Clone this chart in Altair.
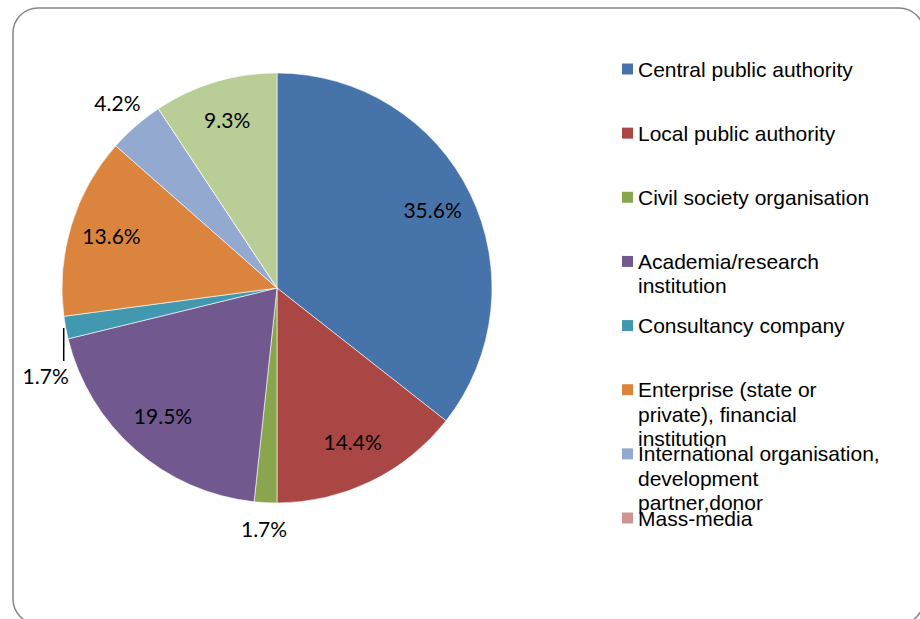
import math

import altair as alt
import pandas as pd

# Respondent categories, in the order the slices run clockwise from 12 o'clock
categories = [
    "Central public authority",
    "Local public authority",
    "Civil society organisation",
    "Academia/research institution",
    "Consultancy company",
    "Enterprise (state or private), financial institution",
    "International organisation, development partner,donor",
    "Mass-media",
    "Other",
]
shares = [35.6, 14.4, 1.7, 19.5, 1.7, 13.6, 4.2, 0.0, 9.3]
colors = [
    "#4673AA", "#AA4643", "#89A54E", "#71588F", "#4198AF",
    "#DB843D", "#93A9CF", "#D19392", "#B9CD96",
]

# Legend entries (wrapped the way they are printed)
legend_labels = [
    "Central public authority",
    "Local public authority",
    "Civil society organisation",
    "Academia/research\ninstitution",
    "Consultancy company",
    "Enterprise (state or\nprivate), financial\ninstitution",
    "International organisation,\ndevelopment\npartner,donor",
    "Mass-media",
]

# Slices whose label hangs below a short leader line
leader_labels = ["Consultancy company"]

CX, CY, R = 277, 288, 215

df = pd.DataFrame({"idx": range(len(categories)), "cat": categories, "share": shares})
df["mid"] = df["share"].cumsum() - df["share"] / 2
df["label"] = df["share"].map(lambda v: f"{v:.1f}%")

ldf = pd.DataFrame({
    "idx": range(len(legend_labels)),
    "cat": categories[: len(legend_labels)],
    "label": legend_labels,
})

THETA = alt.Scale(domain=[0, 100], range=[0, 2 * math.pi])
COLOR = alt.Color("cat:N", scale=alt.Scale(domain=categories, range=colors), legend=None)
LEG_Y = alt.Scale(type="point", domain=list(range(len(legend_labels))), range=[69, 518], padding=0)

frame = alt.Chart(pd.DataFrame({"a": [0]})).mark_rect(
    cornerRadius=25, fillOpacity=0, stroke="#858585", strokeWidth=1.5
).encode(x=alt.value(13), x2=alt.value(924), y=alt.value(8), y2=alt.value(624))

arcs = alt.Chart(df).mark_arc(
    outerRadius=R, stroke="#ffffff", strokeWidth=0.6
).encode(
    theta=alt.Theta("share:Q", stack=True, scale=THETA),
    color=COLOR,
    order=alt.Order("idx:Q"),
    x=alt.value(CX),
    y=alt.value(CY),
)

label_enc = dict(
    theta=alt.Theta("mid:Q", stack=False, scale=THETA),
    text=alt.Text("label:N"),
    x=alt.value(CX),
    y=alt.value(CY),
)
label_style = dict(font="Lato", fontSize=21, color="#000000")

inside = alt.Chart(df).transform_filter("datum.share >= 5").mark_text(
    radius=173, **label_style
).encode(**label_enc)

outside = alt.Chart(df).transform_filter(
    alt.FieldOneOfPredicate(field="cat", oneOf=leader_labels, **{}) if False else
    "datum.share > 0 && datum.share < 5 && indexof(%s, datum.cat) < 0" % str(leader_labels)
).mark_text(radius=243, **label_style).encode(**label_enc)

leader_text = alt.Chart(df).transform_filter(
    alt.FieldOneOfPredicate(field="cat", oneOf=leader_labels)
).mark_text(radius=R + 1, dx=-19, dy=50, **label_style).encode(**label_enc)

leader_line = alt.Chart(df).transform_filter(
    alt.FieldOneOfPredicate(field="cat", oneOf=leader_labels)
).transform_calculate(
    ex=f"{CX} + {R + 2} * sin(datum.mid / 100 * 2 * PI)",
    ey=f"{CY} - {R + 2} * cos(datum.mid / 100 * 2 * PI)",
).transform_calculate(
    ey2="datum.ey + 33"
).mark_rule(color="#000000", strokeWidth=1.5).encode(
    x=alt.X("ex:Q", scale=None),
    y=alt.Y("ey:Q", scale=None),
    y2="ey2:Q",
)

legend_sq = alt.Chart(ldf).mark_square(size=121, opacity=1).encode(
    x=alt.value(627.5),
    y=alt.Y("idx:O", scale=LEG_Y, axis=None),
    color=COLOR,
)

legend_txt = alt.Chart(ldf).mark_text(
    align="left", baseline="alphabetic", dy=7.5, font="Liberation Sans",
    fontSize=21, lineBreak="\n", lineHeight=24.5, color="#000000"
).encode(
    x=alt.value(638),
    y=alt.Y("idx:O", scale=LEG_Y, axis=None),
    text=alt.Text("label:N"),
)

chart = alt.layer(
    frame, arcs, inside, outside, leader_text, leader_line, legend_sq, legend_txt
).resolve_scale(
    x="independent", y="independent"
).properties(
    width=920, height=619, padding=0, autosize=alt.AutoSizeParams(type="none"),
    background="#ffffff",
).configure_view(strokeWidth=0)

chart.save("out.html", embed_options={"renderer": "svg", "actions": False})
